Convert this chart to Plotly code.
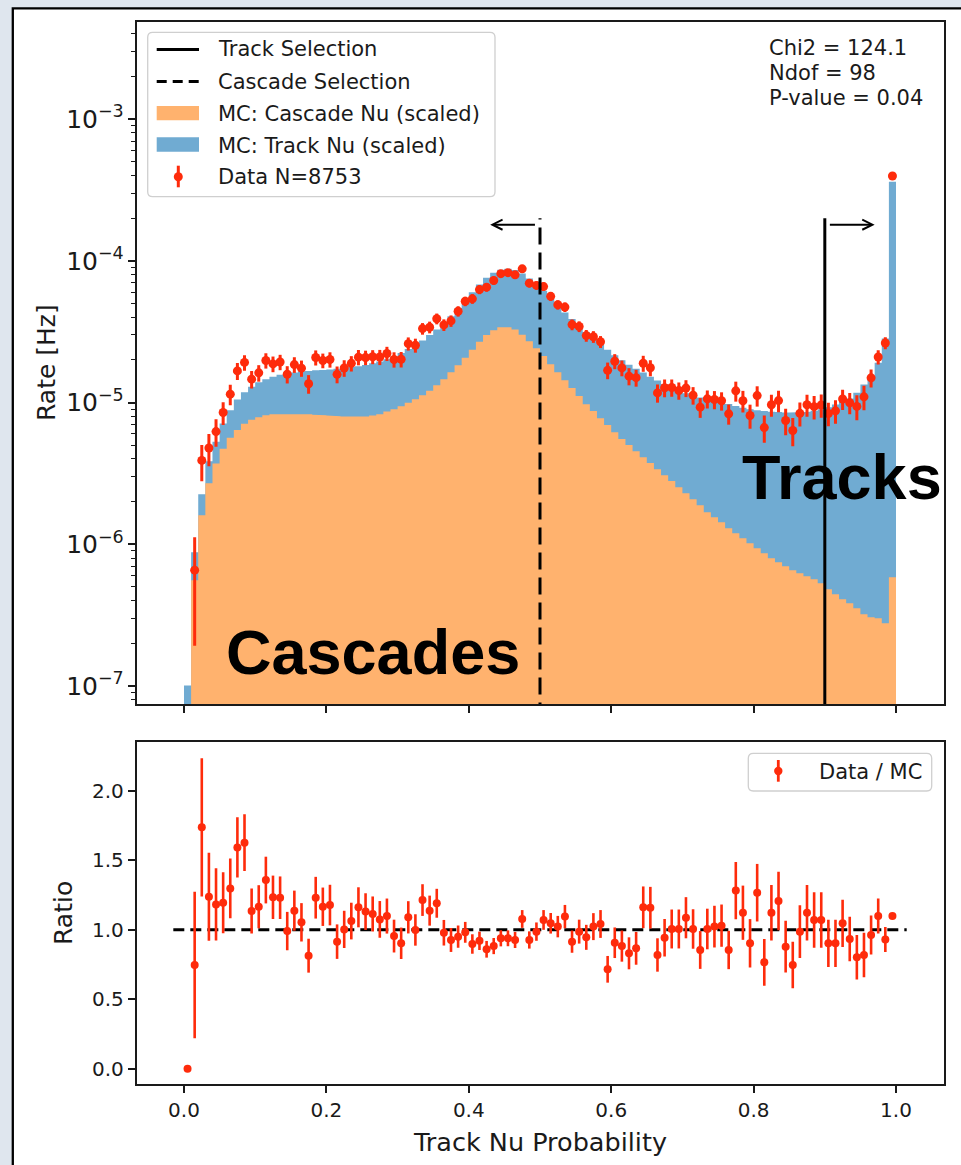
import numpy as np
import plotly.graph_objects as go

W, H = 961, 1165

# ---------------------------------------------------------------- data
# 100 equal-width bins in track-neutrino probability
bin_edges = np.round(np.linspace(0.0, 1.0, 101), 4)
bin_centers = 0.5 * (bin_edges[:-1] + bin_edges[1:])

# scaled MC rate of cascade-like neutrinos per bin [Hz]
mc_cascade = [
    0.0, 5.58e-7, 1.604e-6, 2.70e-6, 3.71e-6, 4.73e-6, 5.65e-6, 6.39e-6, 7.10e-6, 7.57e-6,
    7.89e-6, 8.15e-6, 8.28e-6, 8.35e-6, 8.38e-6, 8.38e-6, 8.35e-6, 8.28e-6, 8.21e-6, 8.15e-6,
    8.09e-6, 8.02e-6, 7.96e-6, 7.93e-6, 7.93e-6, 7.98e-6, 8.09e-6, 8.28e-6, 8.63e-6, 8.98e-6,
    9.43e-6, 9.98e-6, 1.057e-5, 1.128e-5, 1.213e-5, 1.327e-5, 1.462e-5, 1.638e-5, 1.836e-5, 2.074e-5,
    2.36e-5, 2.69e-5, 2.99e-5, 3.24e-5, 3.40e-5, 3.40e-5, 3.27e-5, 3.01e-5, 2.71e-5, 2.42e-5,
    2.13e-5, 1.866e-5, 1.638e-5, 1.438e-5, 1.264e-5, 1.110e-5, 9.74e-6, 8.70e-6, 7.76e-6, 6.93e-6,
    6.18e-6, 5.52e-6, 5.01e-6, 4.54e-6, 4.12e-6, 3.74e-6, 3.39e-6, 3.07e-6, 2.79e-6, 2.53e-6,
    2.29e-6, 2.08e-6, 1.888e-6, 1.684e-6, 1.553e-6, 1.432e-6, 1.299e-6, 1.198e-6, 1.104e-6, 1.018e-6,
    9.39e-7, 8.65e-7, 7.98e-7, 7.48e-7, 7.01e-7, 6.56e-7, 6.25e-7, 5.95e-7, 5.67e-7, 5.31e-7,
    4.82e-7, 4.44e-7, 4.10e-7, 3.84e-7, 3.54e-7, 3.21e-7, 3.06e-7, 3.01e-7, 2.77e-7, 5.86e-7,
]

# scaled MC rate, cascade + track neutrinos stacked [Hz]
mc_total = [
    1.01e-7, 8.8e-7, 2.25e-6, 3.86e-6, 5.28e-6, 7.12e-6, 8.84e-6, 1.05e-5, 1.18e-5, 1.29e-5,
    1.39e-5, 1.46e-5, 1.52e-5, 1.57e-5, 1.60e-5, 1.63e-5, 1.66e-5, 1.67e-5, 1.69e-5, 1.70e-5,
    1.71e-5, 1.73e-5, 1.75e-5, 1.78e-5, 1.80e-5, 1.84e-5, 1.89e-5, 1.95e-5, 2.02e-5, 2.11e-5,
    2.24e-5, 2.39e-5, 2.54e-5, 2.74e-5, 2.99e-5, 3.28e-5, 3.61e-5, 4.07e-5, 4.64e-5, 5.28e-5,
    6.01e-5, 6.81e-5, 7.59e-5, 8.24e-5, 8.65e-5, 8.79e-5, 8.60e-5, 8.15e-5, 7.51e-5, 6.80e-5,
    6.15e-5, 5.37e-5, 4.79e-5, 4.31e-5, 3.88e-5, 3.49e-5, 3.14e-5, 2.85e-5, 2.58e-5, 2.36e-5,
    2.16e-5, 1.99e-5, 1.85e-5, 1.73e-5, 1.63e-5, 1.52e-5, 1.43e-5, 1.35e-5, 1.27e-5, 1.21e-5,
    1.165e-5, 1.12e-5, 1.086e-5, 1.057e-5, 1.028e-5, 1.0e-5, 9.75e-6, 9.44e-6, 9.18e-6, 8.98e-6,
    8.84e-6, 8.70e-6, 8.60e-6, 8.56e-6, 8.51e-6, 8.51e-6, 8.51e-6, 8.60e-6, 8.74e-6, 8.98e-6,
    9.28e-6, 9.69e-6, 1.012e-5, 1.069e-5, 1.172e-5, 1.341e-5, 1.552e-5, 1.907e-5, 2.83e-5, 3.61e-4,
]

# data / MC per bin and its statistical uncertainty
ratio = [
    0.0, 0.746, 1.736, 1.237, 1.182, 1.194, 1.297, 1.592, 1.626, 1.134,
    1.165, 1.357, 1.233, 1.230, 0.990, 1.137, 1.053, 0.813, 1.230, 1.165,
    1.177, 0.914, 1.002, 1.062, 1.161, 1.130, 1.113, 1.074, 1.098, 0.954,
    0.902, 1.089, 0.998, 1.213, 1.137, 1.190, 0.978, 0.926, 0.950, 0.981,
    0.897, 0.920, 0.859, 0.882, 0.938, 0.938, 0.926, 1.077, 0.926, 0.986,
    1.070, 1.046, 1.022, 1.094, 0.914, 0.986, 0.945, 1.022, 1.041, 0.715,
    0.906, 0.882, 0.830, 0.866, 1.161, 1.158, 0.818, 0.942, 1.005, 1.005,
    1.086, 1.005, 0.854, 1.005, 1.022, 1.029, 0.854, 1.281, 1.122, 0.902,
    1.266, 0.765, 1.122, 1.206, 0.878, 0.746, 0.986, 1.122, 1.070, 1.070,
    0.902, 0.902, 1.046, 0.933, 0.801, 0.818, 0.962, 1.098, 0.930, 1.098,
]
ratio_err = [
    0.0, 0.527, 0.498, 0.317, 0.260, 0.220, 0.215, 0.216, 0.204, 0.162,
    0.155, 0.168, 0.156, 0.153, 0.138, 0.144, 0.138, 0.122, 0.150, 0.138,
    0.146, 0.124, 0.134, 0.132, 0.144, 0.132, 0.126, 0.132, 0.126, 0.118,
    0.113, 0.116, 0.113, 0.114, 0.108, 0.104, 0.092, 0.086, 0.080, 0.075,
    0.070, 0.066, 0.060, 0.058, 0.058, 0.057, 0.058, 0.064, 0.062, 0.066,
    0.071, 0.074, 0.077, 0.084, 0.080, 0.086, 0.090, 0.097, 0.100, 0.096,
    0.110, 0.112, 0.115, 0.118, 0.150, 0.150, 0.120, 0.135, 0.140, 0.140,
    0.148, 0.142, 0.136, 0.146, 0.150, 0.152, 0.138, 0.206, 0.195, 0.174,
    0.207, 0.168, 0.200, 0.210, 0.186, 0.168, 0.190, 0.200, 0.200, 0.200,
    0.170, 0.170, 0.170, 0.160, 0.160, 0.160, 0.140, 0.126, 0.090, 0.020,
]

n_data = 8753
chi2, ndof, p_value = 124.1, 98, 0.04
track_cut, cascade_cut = 0.9, 0.5
x_ticks = [0.0, 0.2, 0.4, 0.6, 0.8, 1.0]
ratio_ticks = [0.0, 0.5, 1.0, 1.5, 2.0]

# observed rate follows from the ratio to the stacked MC
mc_total_arr = np.array(mc_total)
ratio_arr = np.array(ratio)
data_rate = ratio_arr * mc_total_arr
data_rate_err = np.array(ratio_err) * mc_total_arr
data_rate_plot = [v if v > 0 else None for v in data_rate]

# ---------------------------------------------------------------- style
INK = "#1a1a1a"
RED = "#fe2b0b"
ORANGE = "#ffb26e"
BLUE = "#70abd2"
FONT = "DejaVu Sans"

# axes boxes in figure pixels
AX_L, AX_R = 136.5, 943.5
TOP_T, TOP_B = 21.7, 704.3
BOT_T, BOT_B = 742.0, 1084.0


def fx(x):
    return x / W


def fy(y):
    return 1 - y / H


FLOOR = 1e-9


def step_polygon(values):
    xs, ys = [bin_edges[0]], [FLOOR]
    for i, v in enumerate(values):
        v = v if v > 0 else FLOOR
        xs += [bin_edges[i], bin_edges[i + 1]]
        ys += [v, v]
    xs.append(bin_edges[-1])
    ys.append(FLOOR)
    return xs, ys


fig = go.Figure()

# stacked MC histogram: total (blue, track part visible) under cascade (orange)
tx, ty = step_polygon(mc_total)
fig.add_trace(go.Scatter(x=tx, y=ty, mode="lines", fill="toself", fillcolor=BLUE,
                         line=dict(width=0, color=BLUE), hoverinfo="skip",
                         xaxis="x", yaxis="y", name="MC: Track Nu (scaled)"))
cx, cy = step_polygon(mc_cascade)
fig.add_trace(go.Scatter(x=cx, y=cy, mode="lines", fill="toself", fillcolor=ORANGE,
                         line=dict(width=0, color=ORANGE), hoverinfo="skip",
                         xaxis="x", yaxis="y", name="MC: Cascade Nu (scaled)"))

# data points with Poisson errors
fig.add_trace(go.Scatter(
    x=bin_centers, y=data_rate_plot, mode="markers",
    marker=dict(color=RED, size=9, line=dict(width=0)),
    error_y=dict(type="data", array=data_rate_err, visible=True,
                 color=RED, thickness=3, width=0),
    xaxis="x", yaxis="y", name=f"Data N={n_data}"))

# selection cuts
sel_top = 2.0e-4
fig.add_trace(go.Scatter(x=[track_cut, track_cut], y=[FLOOR, sel_top], mode="lines",
                         line=dict(color="black", width=3), xaxis="x", yaxis="y",
                         name="Track Selection"))
fig.add_trace(go.Scatter(x=[cascade_cut, cascade_cut], y=[FLOOR, sel_top], mode="lines",
                         line=dict(color="black", width=3, dash="17px,8px"),
                         xaxis="x", yaxis="y", name="Cascade Selection"))

# ratio panel
fig.add_trace(go.Scatter(x=[-0.015, 1.015], y=[1.0, 1.0], mode="lines",
                         line=dict(color="black", width=3, dash="11px,6px"),
                         xaxis="x2", yaxis="y2"))
fig.add_trace(go.Scatter(
    x=bin_centers, y=ratio, mode="markers",
    marker=dict(color=RED, size=8, line=dict(width=0)),
    error_y=dict(type="data", array=ratio_err, visible=True,
                 color=RED, thickness=2.6, width=0),
    xaxis="x2", yaxis="y2", name="Data / MC"))

axis_common = dict(showline=True, mirror=True, linecolor=INK, linewidth=1.5,
                   ticks="outside", ticklen=7, tickwidth=1.5, tickcolor=INK,
                   showgrid=False, zeroline=False,
                   tickfont=dict(family=FONT, size=20, color=INK))

xdom = [fx(AX_L), fx(AX_R)]
fig.update_layout(
    width=W, height=H, autosize=False,
    margin=dict(l=0, r=0, t=0, b=0),
    paper_bgcolor="#dfe6ee", plot_bgcolor="rgba(0,0,0,0)",
    showlegend=False,
    xaxis=dict(domain=xdom, anchor="y", range=[-0.0667, 1.0667],
               tickvals=x_ticks, showticklabels=False, **axis_common),
    yaxis=dict(domain=[fy(TOP_B), fy(TOP_T)], anchor="x", type="log",
               range=[-7.129, -2.313], dtick=1, exponentformat="power",
               minor=dict(ticks="outside", ticklen=4, tickwidth=1.2,
                          tickcolor=INK, dtick="D1", showgrid=False),
               **axis_common),
    xaxis2=dict(domain=xdom, anchor="y2", range=[-0.0667, 1.0667],
                tickvals=x_ticks, tickformat=".1f", **axis_common),
    yaxis2=dict(domain=[fy(BOT_B), fy(BOT_T)], anchor="x2", range=[-0.11, 2.35],
                tickvals=ratio_ticks, tickformat=".1f", **axis_common),
)


def rect(x0, y0, x1, y1, **kw):
    return dict(type="rect", xref="paper", yref="paper",
                x0=fx(x0), x1=fx(x1), y0=fy(y1), y1=fy(y0), **kw)


def seg(x0, y0, x1, y1, **kw):
    return dict(type="line", xref="paper", yref="paper",
                x0=fx(x0), x1=fx(x1), y0=fy(y0), y1=fy(y1), **kw)


def rounded_box(x0, y0, x1, y1, r, **kw):
    def P(x, y):
        return f"{fx(x):.6f},{fy(y):.6f}"
    path = (f"M{P(x0 + r, y0)} L{P(x1 - r, y0)} Q{P(x1, y0)} {P(x1, y0 + r)} "
            f"L{P(x1, y1 - r)} Q{P(x1, y1)} {P(x1 - r, y1)} "
            f"L{P(x0 + r, y1)} Q{P(x0, y1)} {P(x0, y1 - r)} "
            f"L{P(x0, y0 + r)} Q{P(x0, y0)} {P(x0 + r, y0)} Z")
    return dict(type="path", xref="paper", yref="paper", path=path, **kw)


def dot(x, y, r, color):
    return dict(type="circle", xref="paper", yref="paper",
                x0=fx(x - r), x1=fx(x + r), y0=fy(y + r), y1=fy(y - r),
                fillcolor=color, line=dict(width=0), layer="above")


shapes = [
    # white figure card with black frame
    rect(12.8, 8.3, 1000, 1200, fillcolor="white", line=dict(color="black", width=2.3),
         layer="below"),
    # upper legend
    rounded_box(147.7, 32.3, 495.0, 196.7, 5, fillcolor="rgba(255,255,255,0.85)",
                line=dict(color="#cfcfcf", width=1.3), layer="above"),
    seg(156.7, 49.5, 199.0, 49.5, line=dict(color="black", width=3), layer="above"),
    seg(156.7, 81.5, 199.0, 81.5, line=dict(color="black", width=3, dash="10px,6px"),
        layer="above"),
    rect(156.7, 106.0, 199.0, 120.3, fillcolor=ORANGE, line=dict(width=0), layer="above"),
    rect(156.7, 137.3, 199.0, 151.7, fillcolor=BLUE, line=dict(width=0), layer="above"),
    seg(178.3, 165.7, 178.3, 187.3, line=dict(color=RED, width=3), layer="above"),
    dot(178.3, 176.7, 4.5, RED),
    # lower legend
    rounded_box(748.3, 753.3, 931.7, 791.0, 5, fillcolor="rgba(255,255,255,0.85)",
                line=dict(color="#cfcfcf", width=1.3), layer="above"),
    seg(778.3, 760.0, 778.3, 781.7, line=dict(color=RED, width=2.8), layer="above"),
    dot(778.3, 771.0, 4.2, RED),
]


def text(t, x, y, size=21, xanchor="left", family=FONT, **kw):
    return dict(text=t, x=fx(x), y=fy(y), xref="paper", yref="paper",
                showarrow=False, xanchor=xanchor, yanchor="middle",
                font=dict(family=family, size=size, color=kw.pop("color", INK)), **kw)


legend_rows = [
    ("Track Selection", 49.5),
    ("Cascade Selection", 81.5),
    ("MC: Cascade Nu (scaled)", 113.5),
    ("MC: Track Nu (scaled)", 145.5),
    (f"Data N={n_data}", 176.7),
]
annotations = [text(t, 215.5, y) for t, y in legend_rows]
annotations += [
    text("Data / MC", 816.5, 771.5),
    text(f"Chi2 = {chi2}", 766.5, 48.0),
    text(f"Ndof = {ndof}", 766.5, 72.8),
    text(f"P-value = {p_value:.2f}", 766.5, 98.0),
    # axis titles
    text("Rate [Hz]", 46.0, 363.0, size=25, xanchor="center", textangle=-90),
    text("Ratio", 63.0, 913.0, size=25, xanchor="center", textangle=-90),
    text("Track Nu Probability", 540.0, 1142.0, size=25.5, xanchor="center"),
    # region labels
    text("<b>Cascades</b>", 224.0, 651.7, size=63, family="Liberation Sans", color="black"),
    text("<b>Tracks</b>", 739.5, 476.7, size=63, family="Liberation Sans", color="black"),
]

# selection arrows
arrow_y = np.log10(1.8e-4)
for tail, head in [(0.495, 0.43), (0.905, 0.97)]:
    annotations.append(dict(
        x=head, y=arrow_y, ax=tail, ay=arrow_y, xref="x", yref="y",
        axref="x", ayref="y", text="", showarrow=True, arrowhead=5,
        arrowsize=1.0, arrowwidth=2, arrowcolor="black", standoff=0))

fig.update_layout(shapes=shapes, annotations=annotations)

fig.write_html("out.html")
